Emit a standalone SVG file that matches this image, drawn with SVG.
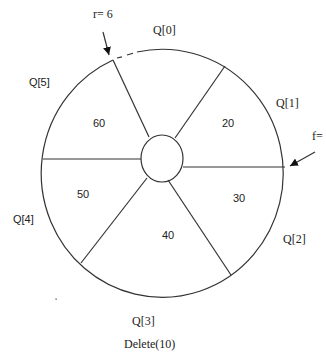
<svg xmlns="http://www.w3.org/2000/svg" width="326" height="352" viewBox="0 0 326 352">
<style>
.ln{stroke:#333;stroke-width:1.2;fill:none}
.serif{font-family:"Liberation Serif","Times New Roman",serif;font-size:12px;fill:#222}
.sans{font-family:"Liberation Sans",Arial,sans-serif;font-size:11px;fill:#222}
</style>
<defs>
<marker id="ah" viewBox="0 0 10 10" refX="10" refY="5" markerWidth="8" markerHeight="8" markerUnits="userSpaceOnUse" orient="auto">
<path d="M0,0 L10,5 L0,10 z" fill="#111"/>
</marker>
</defs>
<rect width="326" height="352" fill="#fff"/>
<g id="queue">
<path class="ln" d="M137,52 A121,124 0 1 1 113,60"/>
<line class="ln" x1="117" y1="58" x2="122" y2="56.8"/>
<line class="ln" x1="127" y1="55" x2="133" y2="53.2"/>
<ellipse class="ln" cx="162" cy="158.5" rx="21" ry="23.5"/>
</g>
<g id="connectors">
<line class="ln" x1="113" y1="60" x2="149" y2="137"/>
<line class="ln" x1="225" y1="66" x2="175" y2="138"/>
<line class="ln" x1="43" y1="159" x2="141" y2="159"/>
<line class="ln" x1="183" y1="167" x2="285" y2="167"/>
<line class="ln" x1="147" y1="178" x2="81" y2="263"/>
<line class="ln" x1="168" y1="180" x2="231" y2="275"/>
<line class="ln" x1="103" y1="32" x2="109" y2="55" marker-end="url(#ah)"/>
<line class="ln" x1="315" y1="152" x2="290" y2="166" marker-end="url(#ah)"/>
</g>
<g id="labels">
<text class="serif" x="93" y="18" font-size="11">r= 6</text>
<text class="serif" x="153" y="34">Q[0]</text>
<text class="serif" x="276" y="107">Q[1]</text>
<text class="serif" x="312" y="140">f=</text>
<text class="serif" x="283" y="243">Q[2]</text>
<text class="serif" x="132" y="325">Q[3]</text>
<text class="sans" x="13" y="223" font-size="12">Q[4]</text>
<text class="sans" x="29" y="86" font-size="12">Q[5]</text>
<text class="serif" x="124" y="348">Delete(10)</text>
<text class="sans" x="93" y="127">60</text>
<text class="sans" x="222" y="127">20</text>
<text class="sans" x="233" y="202">30</text>
<text class="sans" x="162" y="239">40</text>
<text class="sans" x="77" y="198">50</text>
<rect x="55.5" y="298.5" width="1.2" height="1.2" fill="#333"/>
</g>
</svg>
